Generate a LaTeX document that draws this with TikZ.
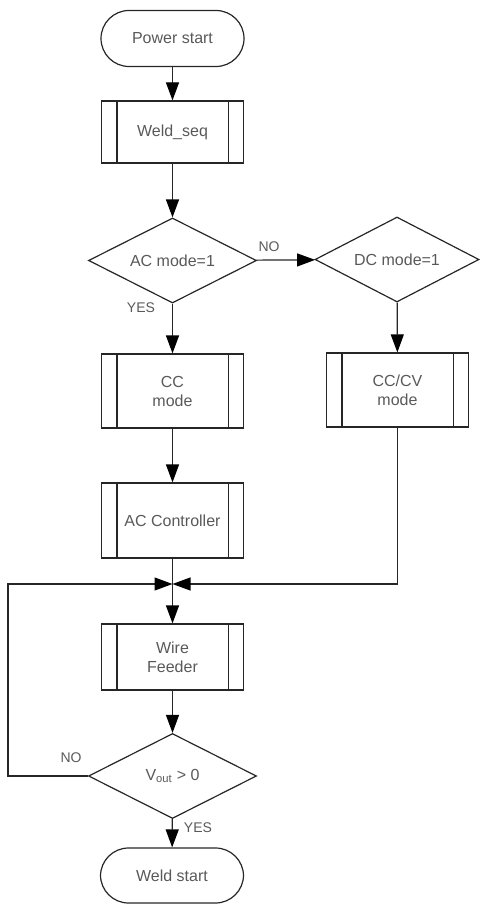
\documentclass[tikz,border=0pt]{standalone}
\usepackage{fontspec}
\setmainfont{Liberation Sans}
\usetikzlibrary{shapes.geometric,arrows.meta}
\begin{document}
\begin{tikzpicture}[x=1pt,y=-1pt,
  line/.style={draw=black!85, line width=1.2pt},
  arr/.style={line, -{Triangle[length=18pt,width=13pt,color=black]}},
  txt/.style={text=black!65, font=\fontsize{16}{19}\selectfont, align=center},
  term/.style={txt, line, rectangle, rounded corners=28pt, minimum width=143pt, minimum height=56pt, inner sep=0pt},
  proc/.style={txt, line, rectangle, minimum width=142pt, inner sep=0pt},
  dec/.style={txt, line, diamond, minimum width=168pt, minimum height=85pt, inner sep=0pt, aspect=2},
  lbl/.style={text=black!65, font=\fontsize{14}{16}\selectfont}
]
\useasboundingbox (0,0) rectangle (479,904);
\node[term] (ps) at (172.5,38.5) {Power start};
\node[proc, minimum height=62pt] (ws) at (172.5,132) {Weld\_seq};
\node[dec] (ac) at (172.5,260.5) {AC mode=1};
\node[dec, minimum width=164pt] (dc) at (397,259.5) {DC mode=1};
\node[proc, minimum height=74pt] (cc) at (172.5,391) {CC\\mode};
\node[proc, minimum height=74pt] (cv) at (397.5,390) {CC/CV\\mode};
\node[proc, minimum height=75pt] (acc) at (172.5,520.5) {AC Controller};
\coordinate (j) at (172.5,584);
\node[proc, minimum height=66pt] (wf) at (172.5,657) {Wire\\Feeder};
\node[dec] (vo) at (172.5,776) {V\textsubscript{out} > 0};
\node[term, minimum height=55pt] (we) at (172,875.5) {Weld start};
\coordinate (lc) at (8,776);

\foreach \n in {ws,cc,cv,acc,wf}
  \draw[line] ([xshift=16pt]\n.north west) -- ([xshift=16pt]\n.south west)
              ([xshift=-16pt]\n.north east) -- ([xshift=-16pt]\n.south east);

\draw[arr] (ps) -- (ws);
\draw[arr] (ws) -- (ac);
\draw[arr] (ac) -- (dc);
\draw[arr] (ac) -- (cc);
\draw[arr] (dc) -- (cv);
\draw[arr] (cc) -- (acc);
\draw[line] (acc) -- (j);
\draw[arr] (j) -- (wf);
\draw[arr] (cv.south) |- (j);
\draw[arr] (vo.west) -- (lc) |- (j);
\draw[arr] (wf) -- (vo);
\draw[arr] (vo) -- (we);

\node[lbl] (no1) at (269,247) {NO};
\node[lbl] (yes1) at (141,308) {YES};
\node[lbl] (no2) at (71,758) {NO};
\node[lbl] (yes2) at (198,828) {YES};
\end{tikzpicture}
\end{document}
